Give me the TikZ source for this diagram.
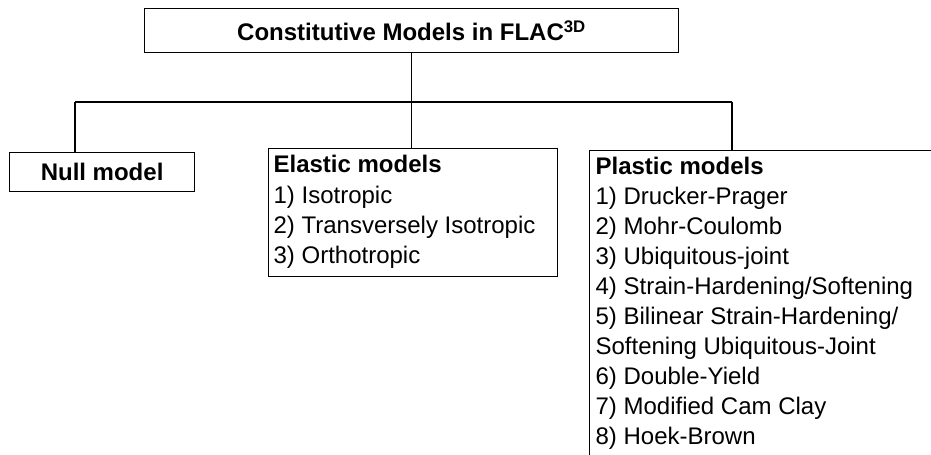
\documentclass[tikz,border=0pt]{standalone}
\usepackage{fontspec}
\setmainfont{Liberation Sans}

\tikzset{
  box/.style={draw, inner sep=0pt, anchor=north west},
  head/.style={font=\fontsize{18}{22}\selectfont\bfseries},
  item/.style={font=\fontsize{18}{22}\selectfont, inner sep=0pt, anchor=base west},
}

\begin{document}
\begin{tikzpicture}[x=0.75pt, y=-0.75pt, line width=0.9pt]
\pgfmathsetmacro{\ls}{30.1} % line step of the lists
\pgfmathsetmacro{\bus}{102} % height of the bus line

\useasboundingbox (0,0) rectangle (931,454);
\clip (0,0) rectangle (931,454);

\node[box, head, minimum width=534*0.75pt, minimum height=44*0.75pt] (title) at (144,8) {Constitutive Models in FLAC\textsuperscript{3D}}; % top
\node[box, head, minimum width=185*0.75pt, minimum height=39*0.75pt] (null) at (9,152) {Null model};
\node[box, minimum width=289*0.75pt, minimum height=128*0.75pt] (elastic) at (268,148) {};
\node[box, minimum width=420*0.75pt, minimum height=400*0.75pt] (plastic) at (589,150) {}; % runs off the page

% elastic list
\node[item, font=\fontsize{18}{22}\selectfont\bfseries] (elhead) at (273,172) {Elastic models};
\foreach \t [count=\i from 0] in {1) Isotropic, 2) Transversely Isotropic, 3) Orthotropic}
  \node[item] (el\i) at (273,{203+\i*\ls}) {\t};

% plastic list
\node[item, font=\fontsize{18}{22}\selectfont\bfseries] (plhead) at (595,174) {Plastic models};
\foreach \t [count=\i from 0] in {1) Drucker-Prager, 2) Mohr-Coulomb, 3) Ubiquitous-joint,
    4) Strain-Hardening/Softening, 5) Bilinear Strain-Hardening/, Softening Ubiquitous-Joint,
    6) Double-Yield, 7) Modified Cam Clay, 8) Hoek-Brown}
  \node[item] (pl\i) at (595,{204+\i*\ls}) {\t};

% connectors
\coordinate (busL) at (75,\bus);
\coordinate (busR) at (732,\bus);
\draw (busL) -- (busR);
\draw (title.south) -- (title.south |- elastic.north);
\draw (busL) -- (busL |- null.north);
\draw (busR) -- (busR |- plastic.north);

\end{tikzpicture}
\end{document}
